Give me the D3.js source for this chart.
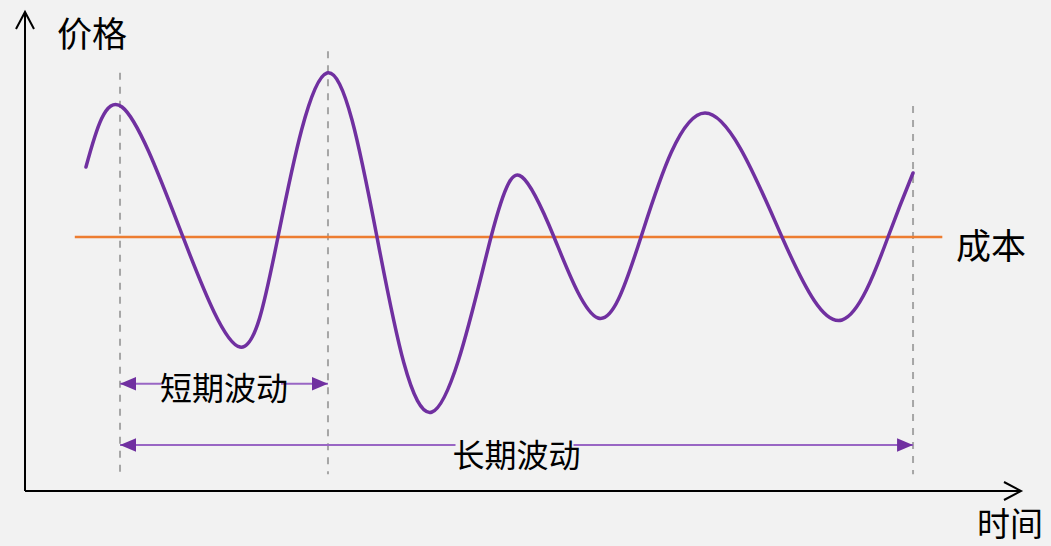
<!DOCTYPE html>
<html><head><meta charset="utf-8">
<script src="https://cdn.jsdelivr.net/npm/d3@7"></script>
<style>
html,body{margin:0;padding:0;background:#f2f2f2;}
svg{display:block;}
text{font-family:"Noto Sans CJK SC","Noto Sans",sans-serif;fill:#000;}
</style></head>
<body>
<script>
// Price curve (time 0-100, price 0-100): peaks, troughs and cost-line crossings
const curveTime  = [6.12, 9.74, 15.86, 21.59, 25.40, 30.32, 35.34, 40.86, 46.79, 49.90, 53.11, 57.53, 61.85, 68.27, 76.00, 82.03, 86.65, 89.16];
const curvePrice = [67.64, 80.17, 53.03, 30.06, 53.03, 87.27, 53.03, 16.49, 53.03, 65.55, 53.03, 36.12, 53.03, 78.91, 53.03, 35.70, 53.03, 66.39];
const costPrice = 53.03;
const costRange = [5.0, 92.1];
const markTimes = [9.54, 30.42, 89.16];
const markTops = [87.3, 91.8, 80.4];
const markBottom = 3.5;
const spanLabels = ["短期波动", "长期波动"];
const spanPrices = [22.4, 9.6];
const axisLabels = ["价格", "时间", "成本"];

const W = 1051, H = 546;
const svg = d3.select("body").append("svg").attr("width", W).attr("height", H);
svg.append("rect").attr("width", W).attr("height", H).attr("fill", "#f2f2f2");

const x = d3.scaleLinear().domain([0, 100]).range([25, 1021]);
const y = d3.scaleLinear().domain([0, 100]).range([491, 12]);

const defs = svg.append("defs");
defs.append("marker").attr("id", "tri").attr("viewBox", "0 0 10 10")
  .attr("refX", 10).attr("refY", 5).attr("markerWidth", 16).attr("markerHeight", 16)
  .attr("markerUnits", "userSpaceOnUse").attr("orient", "auto-start-reverse")
  .append("path").attr("d", "M0,0.8 L10,5 L0,9.2 Z").attr("fill", "#7030a0");

// axes
const ax = svg.append("g").attr("stroke", "#000").attr("stroke-width", 2).attr("fill", "none");
ax.append("line").attr("x1", x(0)).attr("y1", y(0)).attr("x2", x(0)).attr("y2", y(100));
ax.append("polyline").attr("points", `${x(0)-9},${y(100)+17} ${x(0)},${y(100)} ${x(0)+9},${y(100)+17}`);
ax.append("line").attr("x1", x(0)).attr("y1", y(0)).attr("x2", x(100)).attr("y2", y(0));
ax.append("polyline").attr("points", `${x(100)-17},${y(0)-9} ${x(100)},${y(0)} ${x(100)-17},${y(0)+9}`);

// dashed guides
svg.append("g").selectAll("line").data(markTimes).join("line")
  .attr("x1", d => x(d)).attr("x2", d => x(d))
  .attr("y1", (d, i) => y(markTops[i])).attr("y2", y(markBottom))
  .attr("stroke", "#a6a6a6").attr("stroke-width", 2).attr("stroke-dasharray", "7,7");

// cost line
svg.append("line").attr("x1", x(costRange[0])).attr("x2", x(costRange[1]))
  .attr("y1", y(costPrice)).attr("y2", y(costPrice))
  .attr("stroke", "#ed7d31").attr("stroke-width", 2.5);

// price curve
const pts = curveTime.map((t, i) => [t, curvePrice[i]]);
svg.append("path").datum(pts)
  .attr("d", d3.line().x(d => x(d[0])).y(d => y(d[1])).curve(d3.curveNatural))
  .attr("fill", "none").attr("stroke", "#7030a0").attr("stroke-width", 3.5).attr("stroke-linecap", "round");

// span arrows
const spans = [[markTimes[0], markTimes[1]], [markTimes[0], markTimes[2]]];
const labelOffsets = [2, 8];
spans.forEach((s, i) => {
  const yy = y(spanPrices[i]);
  const x1 = x(s[0]), x2 = x(s[1]);
  const cx = (x1 + x2) / 2;
  const g = svg.append("g");
  const t = g.append("text").attr("x", cx).attr("y", yy + labelOffsets[i]).attr("text-anchor", "middle")
    .attr("dominant-baseline", "central").attr("font-size", 32).text(spanLabels[i]);
  const bb = t.node().getBBox();
  const gap0 = bb.x + 3, gap1 = bb.x + bb.width - 7;
  g.insert("line", "text").attr("x1", x1).attr("x2", gap0).attr("y1", yy).attr("y2", yy)
    .attr("stroke", "#9966c4").attr("stroke-width", 2).attr("marker-start", "url(#tri)");
  g.insert("line", "text").attr("x1", gap1).attr("x2", x2).attr("y1", yy).attr("y2", yy)
    .attr("stroke", "#9966c4").attr("stroke-width", 2).attr("marker-end", "url(#tri)");
});

// axis labels
svg.append("text").attr("x", 57).attr("y", 31).attr("dominant-baseline", "central")
  .attr("font-size", 35).text(axisLabels[0]);
svg.append("text").attr("x", 977).attr("y", 522).attr("dominant-baseline", "central")
  .attr("font-size", 33).text(axisLabels[1]);
svg.append("text").attr("x", 956).attr("y", 243).attr("dominant-baseline", "central")
  .attr("font-size", 35).text(axisLabels[2]);
</script>
</body></html>
